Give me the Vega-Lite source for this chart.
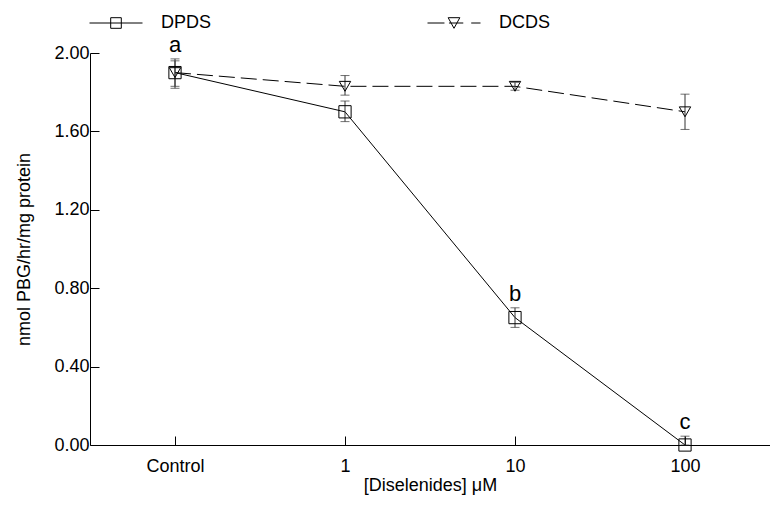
{
  "$schema": "https://vega.github.io/schema/vega-lite/v6.json",
  "width": 680,
  "height": 392,
  "autosize": {"type": "none"},
  "padding": {"left": 90, "top": 53, "right": 0, "bottom": 65},
  "background": "white",
  "config": {
    "view": {"stroke": null},
    "font": "Liberation Sans",
    "axis": {"grid": false, "domainColor": "black", "tickColor": "black", "labelColor": "black", "titleColor": "black", "labelFont": "Liberation Sans", "titleFont": "Liberation Sans", "labelFontSize": 18, "titleFontSize": 18, "titleFontWeight": "normal", "domainWidth": 1, "tickWidth": 1}
  },
  "data": {
    "values": [
      {"series": "DPDS", "x": 0, "mean": 1.90, "lo": 1.82, "hi": 1.97, "letter": "a"},
      {"series": "DPDS", "x": 1, "mean": 1.70, "lo": 1.65, "hi": 1.755, "letter": ""},
      {"series": "DPDS", "x": 2, "mean": 0.65, "lo": 0.60, "hi": 0.70, "letter": "b"},
      {"series": "DPDS", "x": 3, "mean": 0.00, "lo": 0.00, "hi": 0.045, "letter": "c"},
      {"series": "DCDS", "x": 0, "mean": 1.90, "lo": 1.83, "hi": 1.96, "letter": ""},
      {"series": "DCDS", "x": 1, "mean": 1.83, "lo": 1.785, "hi": 1.885, "letter": ""},
      {"series": "DCDS", "x": 2, "mean": 1.83, "lo": 1.81, "hi": 1.85, "letter": ""},
      {"series": "DCDS", "x": 3, "mean": 1.70, "lo": 1.61, "hi": 1.79, "letter": ""}
    ]
  },
  "encoding": {
    "x": {
      "field": "x", "type": "quantitative",
      "scale": {"domain": [-0.5, 3.5], "nice": false, "zero": false},
      "axis": {"values": [0, 1, 2, 3], "labelExpr": "['Control','1','10','100'][datum.value]", "title": "[Diselenides] μM", "tickSize": -9, "labelPadding": 21, "titlePadding": 1, "labelFlush": false}
    },
    "y": {
      "field": "mean", "type": "quantitative",
      "scale": {"domain": [0, 2], "nice": false},
      "axis": {"values": [0, 0.4, 0.8, 1.2, 1.6, 2.0], "format": ".2f", "title": "nmol PBG/hr/mg protein", "tickSize": -9, "labelPadding": 10, "titlePadding": 20}
    }
  },
  "layer": [
    {
      "transform": [{"filter": "datum.series === 'DPDS'"}],
      "mark": {"type": "line", "color": "black", "strokeWidth": 1},
      "encoding": {}
    },
    {
      "transform": [{"filter": "datum.series === 'DCDS'"}],
      "mark": {"type": "line", "color": "black", "strokeWidth": 1, "strokeDash": [16, 6]},
      "encoding": {}
    },
    {
      "mark": {"type": "rule", "color": "#333", "strokeWidth": 1},
      "encoding": {"y": {"field": "lo", "type": "quantitative"}, "y2": {"field": "hi"}}
    },
    {
      "mark": {"type": "tick", "orient": "horizontal", "color": "#333", "size": 9, "thickness": 1},
      "encoding": {"y": {"field": "lo", "type": "quantitative"}}
    },
    {
      "mark": {"type": "tick", "orient": "horizontal", "color": "#333", "size": 9, "thickness": 1},
      "encoding": {"y": {"field": "hi", "type": "quantitative"}}
    },
    {
      "transform": [{"filter": "datum.series === 'DPDS'"}],
      "mark": {"type": "point", "shape": "square", "filled": false, "color": "black", "size": 150, "strokeWidth": 1, "opacity": 1}
    },
    {
      "transform": [{"filter": "datum.series === 'DCDS'"}],
      "mark": {"type": "point", "shape": "triangle-down", "filled": false, "color": "black", "size": 130, "strokeWidth": 1, "opacity": 1}
    },
    {
      "transform": [{"filter": "datum.letter !== ''"}],
      "mark": {"type": "text", "font": "Liberation Sans", "fontSize": 22, "color": "black", "baseline": "alphabetic", "align": "center", "dy": -7},
      "encoding": {"y": {"field": "hi", "type": "quantitative"}, "text": {"field": "letter"}}
    },
    {
      "mark": {"type": "point", "filled": false, "color": "black", "opacity": 0},
      "encoding": {
        "shape": {
          "field": "series", "type": "nominal",
          "scale": {"domain": ["DPDS", "DCDS"], "range": ["M-1,0H1M-0.2,-0.2H0.2V0.2H-0.2Z", "M-1,0H-0.36M-0.19,0H0.35M0.65,0H1M-0.22,-0.2H0.22L0,0.2Z"]},
          "legend": {"orient": "none", "legendX": -1, "legendY": -57, "direction": "horizontal", "title": null, "symbolSize": 2809, "symbolStrokeWidth": 1, "symbolStrokeColor": "black", "symbolFillColor": "transparent", "symbolOpacity": 1, "labelFontSize": 18, "labelFont": "Liberation Sans", "labelColor": "black", "labelOffset": 18, "columnPadding": 213}
        }
      }
    }
  ]
}
